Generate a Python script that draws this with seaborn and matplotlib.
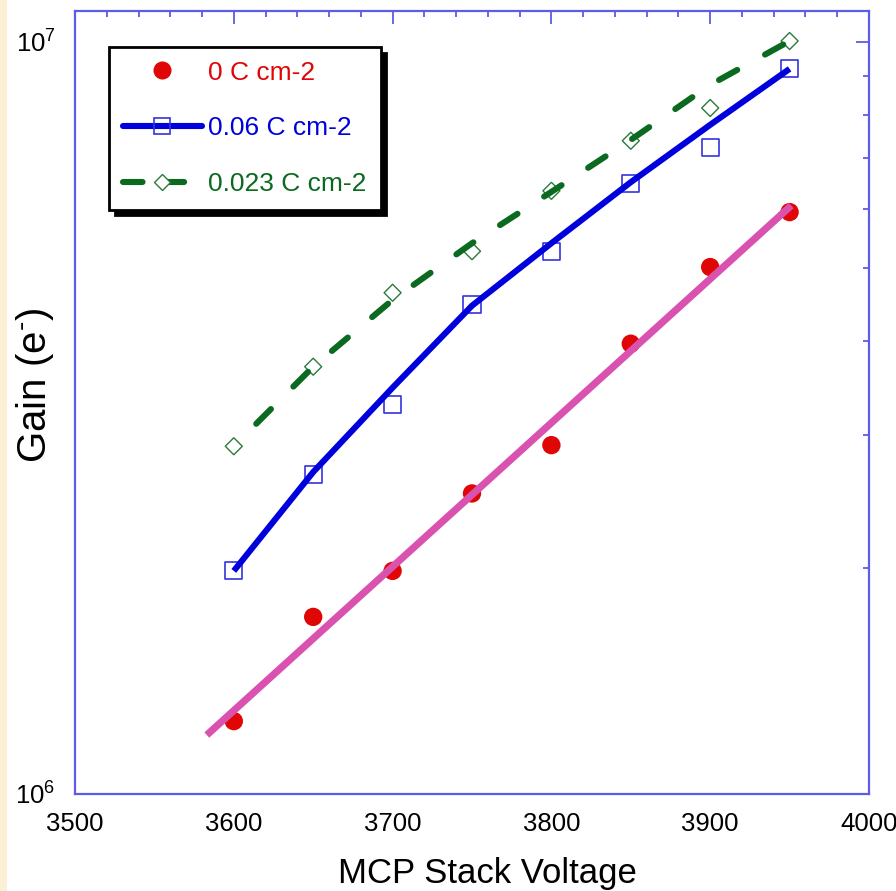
import numpy as np
import pandas as pd
import matplotlib
matplotlib.use("Agg")
import matplotlib.pyplot as plt
import seaborn as sns
from matplotlib.ticker import MultipleLocator, FixedLocator, NullFormatter
from matplotlib.lines import Line2D
from matplotlib.patches import Rectangle

# Measured gain vs. MCP stack voltage for three extracted charge doses
voltage = [3600, 3650, 3700, 3750, 3800, 3850, 3900, 3950]
gain_0 = [1.25e6, 1.72e6, 1.98e6, 2.51e6, 2.91e6, 3.97e6, 5.02e6, 5.94e6]
gain_006 = [1.98e6, 2.66e6, 3.30e6, 4.48e6, 5.27e6, 6.48e6, 7.25e6, 9.23e6]
gain_0023 = [2.90e6, 3.70e6, 4.64e6, 5.27e6, 6.34e6, 7.39e6, 8.17e6, 1.003e7]

# Smoothed trend curves for the two aged stacks
curve_006 = [1.98e6, 2.68e6, 3.47e6, 4.46e6, 5.40e6, 6.51e6, 7.76e6, 9.21e6]
curve_0023 = [2.90e6, 3.70e6, 4.54e6, 5.40e6, 6.32e6, 7.41e6, 8.77e6, 1.003e7]

# Voltage span of the exponential fit to the fresh stack
fit_span = [3583, 3951]

series_labels = ["0 C cm-2", "0.06 C cm-2", "0.023 C cm-2"]
x_label = "MCP Stack Voltage"
y_label = r"Gain (e$^{\text{-}}$)"

RED = "#e00606"
PINK = "#d952b0"
BLUE = "#0000dd"
SQ_EDGE = "#3434e0"
GREEN = "#0b6a20"
D_EDGE = "#2c7a3c"
FRAME = "#5c5ce8"

sns.set_theme(style="white")
plt.rcParams["font.family"] = ["Liberation Sans", "DejaVu Sans"]
plt.rcParams["mathtext.fontset"] = "custom"
plt.rcParams["mathtext.rm"] = "Liberation Sans"
plt.rcParams["mathtext.it"] = "Liberation Sans:italic"

fig = plt.figure(figsize=(8.96, 8.91), dpi=100)
fig.patch.set_facecolor("white")
fig.patches.append(Rectangle((0, 0), 7 / 896, 1, transform=fig.transFigure,
                             facecolor="#fbefd6", edgecolor="none", zorder=0))

ax = fig.add_axes([75 / 896, 1 - 794 / 891, (869 - 75) / 896, (794 - 11) / 891])
ax.set_facecolor("white")

df = pd.DataFrame({"voltage": voltage, "g0": gain_0, "g006": gain_006,
                   "g0023": gain_0023, "c006": curve_006, "c0023": curve_0023})

# exponential fit (straight line in log space) for the fresh stack
slope, icpt = np.polyfit(df["voltage"], np.log10(df["g0"]), 1)
fit_df = pd.DataFrame({"voltage": fit_span})
fit_df["gain"] = 10 ** (icpt + slope * fit_df["voltage"])

# markers
sns.scatterplot(data=df, x="voltage", y="g0", ax=ax, marker="o", s=175,
                color=RED, edgecolor="none", linewidth=0, zorder=3, legend=False)
sns.scatterplot(data=df, x="voltage", y="g006", ax=ax, marker="s", s=150,
                facecolor="none", edgecolor=SQ_EDGE, linewidth=1.2, zorder=3, legend=False)
sns.scatterplot(data=df, x="voltage", y="g0023", ax=ax, marker="D", s=75,
                facecolor="none", edgecolor=D_EDGE, linewidth=1.0, zorder=3, legend=False)

# lines
sns.lineplot(data=fit_df, x="voltage", y="gain", ax=ax, color=PINK, lw=5.2,
             estimator=None, sort=False, zorder=4, solid_capstyle="butt")
sns.lineplot(data=df, x="voltage", y="c006", ax=ax, color=BLUE, lw=4.4,
             estimator=None, sort=False, zorder=4, solid_capstyle="butt")
sns.lineplot(data=df, x="voltage", y="c0023", ax=ax, color=GREEN, lw=4.4,
             estimator=None, sort=False, zorder=4,
             linestyle=(3.4, (3.4, 5.2)), dash_capstyle="round")

ax.set_yscale("log")
ax.set_xlim(3500, 4000)
ax.set_ylim(1e6, 1.0995e7)

ax.xaxis.set_major_locator(MultipleLocator(100))
ax.xaxis.set_minor_locator(MultipleLocator(20))
ax.yaxis.set_major_locator(FixedLocator([1e6, 1e7]))
ax.yaxis.set_minor_locator(FixedLocator([k * 1e6 for k in range(2, 10)]))
ax.yaxis.set_minor_formatter(NullFormatter())
ax.set_yticklabels([r"$\mathregular{10^{6}}$", r"$\mathregular{10^{7}}$"])

ax.tick_params(which="both", direction="in", top=True, right=True,
               color=FRAME, width=1.3, labelsize=18.5, labelcolor="black")
ax.tick_params(which="major", length=9.5)
ax.tick_params(which="minor", length=4.5)
ax.tick_params(axis="x", which="major", pad=13)
ax.tick_params(axis="y", which="major", pad=14)

for sp in ax.spines.values():
    sp.set_color(FRAME)
    sp.set_linewidth(1.6)

ax.set_xlabel(x_label, fontsize=25, color="black")
ax.set_ylabel(y_label, fontsize=29, color="black")
ax.xaxis.set_label_coords(0.52, -0.081)
ax.yaxis.set_label_coords(-0.024, 0.522)

handles = [
    Line2D([], [], ls="none", marker="o", ms=13, color=RED, mec="none"),
    Line2D([], [], color=BLUE, lw=4.4, marker="s", ms=12, mfc="none",
           mec=SQ_EDGE, mew=1.2),
    Line2D([], [], color=GREEN, lw=4.4, ls=(0, (3.2, 3.6)), marker="D", ms=8.5,
           mfc="white", mec=D_EDGE, mew=1.0, dash_capstyle="round"),
]
leg = ax.legend(handles, series_labels, loc="upper left",
                bbox_to_anchor=((109 - 75) / 794, (794 - 47) / 783),
                borderaxespad=0, fontsize=19, labelcolor=[RED, BLUE, GREEN],
                frameon=True, fancybox=False, edgecolor="black", facecolor="white",
                framealpha=1, shadow={"ox": 4, "oy": -4, "color": "black", "alpha": 1},
                handlelength=3.0, handletextpad=0.25, labelspacing=1.2,
                borderpad=0.52)
leg.get_frame().set_linewidth(2.0)
leg.set_zorder(6)

fig.savefig("out.png", dpi=100, facecolor="white")
